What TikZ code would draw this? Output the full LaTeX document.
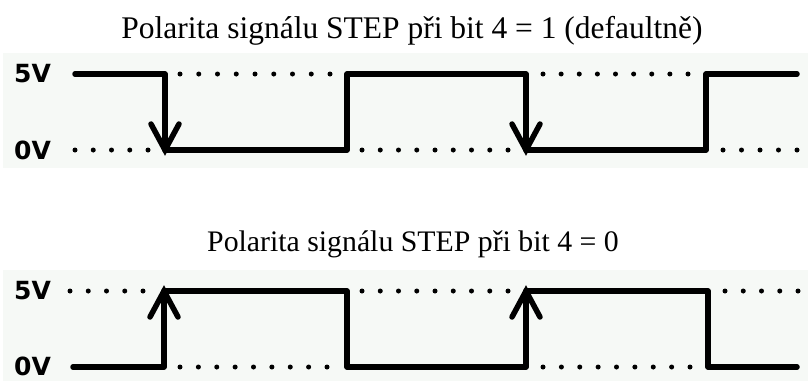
\documentclass[tikz,border=0pt]{standalone}
\usepackage{fontspec}
\setmainfont{Liberation Serif}
\newfontfamily\levelfont{DejaVu Sans}
\definecolor{panelbg}{RGB}{246,249,246}
\tikzset{
  wave/.style={line width=5.5pt, line cap=round, line join=round},
  arrowarm/.style={line width=5.5pt, line cap=round},
  title/.style={font=\fontsize{30}{36}\selectfont, inner sep=0pt, anchor=base},
  level/.style={font=\levelfont\bfseries\fontsize{25}{30}\selectfont, inner sep=0pt, anchor=west},
}
% row of n dots from x0 to x1 at height y
\newcommand{\dotrow}[4]{%
  \foreach \k in {1,...,#4}{%
    \fill ({#1+(\k-1)*(#2-#1)/(#4-1)},#3) circle (2.5);
  }%
}
\begin{document}
\begin{tikzpicture}[x=1pt,y=-1pt]
  \useasboundingbox (0,0) rectangle (808,381);
  \fill[white] (0,0) rectangle (808,381);
  % light panels behind the two waveforms
  \fill[panelbg] (3,53) rectangle (808,168);
  \fill[panelbg] (3,270) rectangle (808,381);

  % titles
  \node[title, font=\fontsize{31.5}{38}\selectfont] (t1) at (412,38) {Polarita signálu STEP při bit 4 = 1 (defaultně)};
  \node[title, font=\fontsize{29.8}{36}\selectfont] (t2) at (413,251) {Polarita signálu STEP při bit 4 = 0};

  % level labels
  \node[level] (h1) at (14,74) {5V};
  \node[level] (l1) at (14,150) {0V};
  \node[level] (h2) at (14,291) {5V};
  \node[level] (l2) at (14,366) {0V};

  % first waveform: falling edge active
  \coordinate (a0) at (75,74);
  \coordinate (a1) at (165,74);
  \coordinate (a2) at (165,150);
  \coordinate (a3) at (347,150);
  \coordinate (a4) at (347,74);
  \coordinate (a5) at (526,74);
  \coordinate (a6) at (526,150);
  \coordinate (a7) at (706,150);
  \coordinate (a8) at (706,74);
  \coordinate (a9) at (797,74);
  \draw[wave] (a0) -- (a1) -- (a2) -- (a3) -- (a4) -- (a5) -- (a6) -- (a7) -- (a8) -- (a9);
  \draw[arrowarm] ([shift={(-14,-26)}]a2) -- (a2) -- ([shift={(14,-26)}]a2);
  \draw[arrowarm] ([shift={(-14,-26)}]a6) -- (a6) -- ([shift={(14,-26)}]a6);
  \dotrow{180}{330}{74}{9}
  \dotrow{543}{688}{74}{9}
  \dotrow{75}{148}{150}{5}
  \dotrow{362}{508}{150}{9}
  \dotrow{723}{797}{150}{5}

  % second waveform: rising edge active
  \coordinate (b0) at (73,367);
  \coordinate (b1) at (164,367);
  \coordinate (b2) at (164,291);
  \coordinate (b3) at (347,291);
  \coordinate (b4) at (347,367);
  \coordinate (b5) at (526,367);
  \coordinate (b6) at (526,291);
  \coordinate (b7) at (708,291);
  \coordinate (b8) at (708,367);
  \coordinate (b9) at (797,367);
  \draw[wave] (b0) -- (b1) -- (b2) -- (b3) -- (b4) -- (b5) -- (b6) -- (b7) -- (b8) -- (b9);
  \draw[arrowarm] ([shift={(-14,26)}]b2) -- (b2) -- ([shift={(14,26)}]b2);
  \draw[arrowarm] ([shift={(-14,26)}]b6) -- (b6) -- ([shift={(14,26)}]b6);
  \dotrow{70}{143}{291}{5}
  \dotrow{362}{508}{291}{9}
  \dotrow{725}{798}{291}{5}
  \dotrow{180}{327}{367}{9}
  \dotrow{543}{690}{367}{9}
\end{tikzpicture}
\end{document}
